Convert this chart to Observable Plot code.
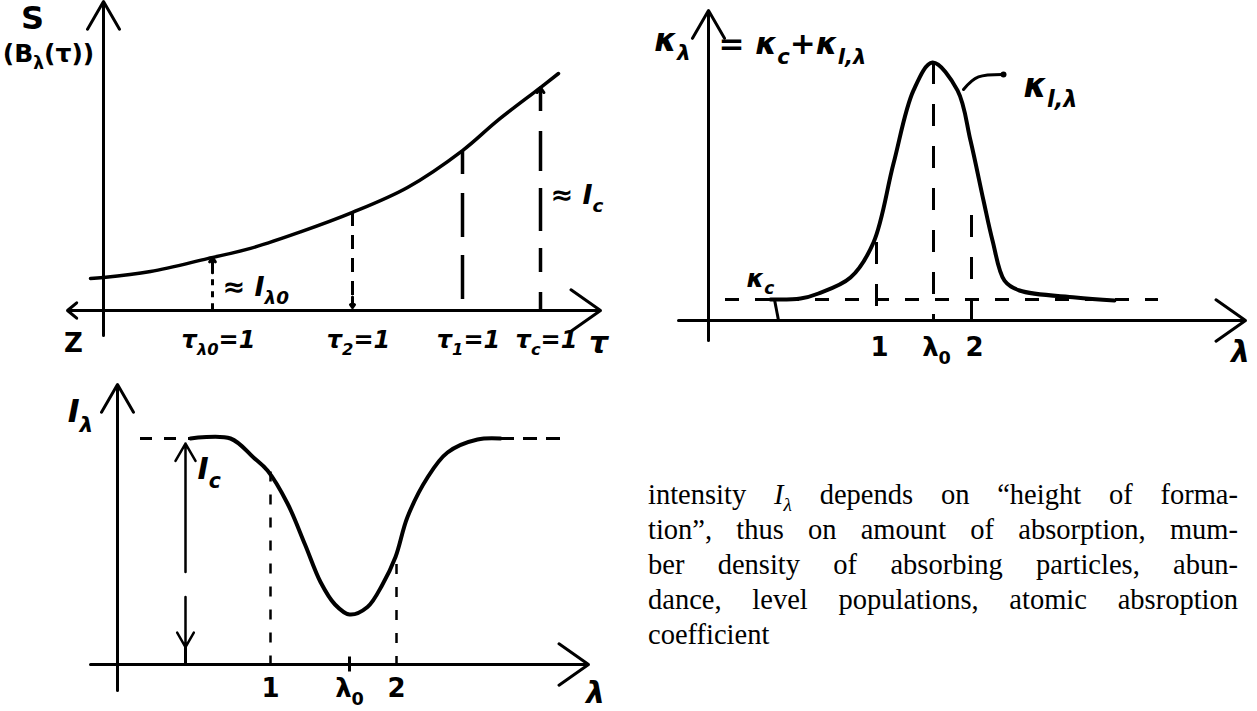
<!DOCTYPE html>
<html>
<head>
<meta charset="utf-8">
<script src="https://cdn.jsdelivr.net/npm/d3@7"></script>
<script src="https://cdn.jsdelivr.net/npm/@observablehq/plot@0.6"></script>
<style>
  html, body { margin: 0; padding: 0; background: #fff; }
  #page { position: relative; width: 1257px; height: 711px; overflow: hidden; background: #fff; }
  .panel { position: absolute; }
  .panel svg { overflow: visible; }
  #note {
    position: absolute; left: 648px; top: 477px; width: 590px;
    font-family: "Liberation Serif", "DejaVu Serif", serif;
    font-size: 28.5px; line-height: 35px; color: #000;
  }
  #note .ln { text-align: justify; text-align-last: justify; white-space: nowrap; }
  #note .last { text-align: left; text-align-last: left; }
  #note sub { font-size: 68%; font-style: italic; line-height: 0; }
</style>
</head>
<body>
<div id="page">
  <div class="panel" id="p-source" style="left:0px; top:0px;"></div>
  <div class="panel" id="p-opacity" style="left:640px; top:0px;"></div>
  <div class="panel" id="p-profile" style="left:0px; top:380px;"></div>
  <div id="note">
    <div class="ln">intensity <i>I</i><sub>λ</sub> depends on “height of forma-</div>
    <div class="ln">tion”, thus on amount of absorption, mum-</div>
    <div class="ln">ber density of absorbing particles, abun-</div>
    <div class="ln">dance, level populations, atomic absroption</div>
    <div class="ln last">coefficient</div>
  </div>
</div>
<script>
// ---- Source function S(τ) rising with optical depth ----
const sourceTau = [-0.26, 0, 0.94, 2.08, 2.94, 3.94, 4.98, 6.08, 7.18, 7.88, 8.74, 9.1];
const sourceS   = [1.07, 1.1, 1.3, 1.73, 2.07, 2.62, 3.27, 4.1, 5.33, 6.33, 7.43, 7.9];
// depths where τ = 1 for the line centre, wing points and continuum
const depthTau    = [2.18, 4.98, 7.18, 8.74];
const depthS      = [1.76, 3.27, 5.33, 7.43];
const depthLabels = ["τ_{λ0}=1", "τ_{2}=1", "τ_{1}=1", "τ_{c}=1"];

// ---- Absorption coefficient κ_λ = κ_c + κ_l,λ ----
const opacityLam   = [1.24, 1.84, 2.2, 2.84, 3.3, 3.7, 4.1, 4.48, 4.98, 5.24, 5.5, 5.68, 5.92, 6.22, 7.34, 8.12];
const opacityKappa = [0.7, 0.73, 0.9, 1.43, 2.6, 5.23, 7.67, 8.6, 7.67, 6.0, 4.0, 2.67, 1.33, 1.0, 0.77, 0.67];
const kappaC = 0.7;
const continuumSpan = [0.34, 9.0];
const opacityMarks  = [3.36, 4.5, 5.26];
const opacityMarkTop = [2.6, 8.6, 3.5];
const opacityTickLabels = ["1", "λ_{0}", "2"];

// ---- Emergent line profile I_λ ----
const profileLam = [1.46, 2.26, 2.72, 3.0, 3.4, 3.75, 4.06, 4.35, 4.64, 5.0, 5.3, 5.56, 5.8, 6.2, 6.6, 7.2, 7.66];
const profileI   = [9.04, 9.04, 8.28, 7.76, 6.44, 4.8, 3.3, 2.4, 2.0, 2.3, 3.2, 4.3, 5.9, 7.48, 8.48, 9.0, 9.04];
const contI = 9.04;
const contSpanLeft  = [0.46, 1.46];
const contSpanRight = [7.66, 9.0];
const profileMarks   = [3.06, 5.58];
const profileMarkTop = [7.7, 4.0];
const profileCentre  = 4.64;
const icArrowLam = 1.36;
const profileTickLabels = ["1", "λ_{0}", "2"];

const ink = "#000";
const hand = {fontFamily: "DejaVu Sans", fontWeight: "bold", fontStyle: "italic", fill: ink};

function zip(xs, ys) { return xs.map((x, i) => ({x, y: ys[i]})); }

// turn "a_{b}c" into tspans with a lowered, smaller subscript
function applySubscripts(svg) {
  const ns = "http://www.w3.org/2000/svg";
  svg.querySelectorAll("text").forEach(t => {
    const s = t.textContent;
    if (!s.includes("_{")) return;
    while (t.firstChild) t.removeChild(t.firstChild);
    const re = /_\{([^}]*)\}/g;
    let last = 0, m, lowered = false;
    const plain = str => {
      const ts = document.createElementNS(ns, "tspan");
      ts.textContent = str;
      if (lowered) ts.setAttribute("dy", "-0.3em");
      lowered = false;
      t.appendChild(ts);
    };
    while ((m = re.exec(s))) {
      if (m.index > last) plain(s.slice(last, m.index));
      const sub = document.createElementNS(ns, "tspan");
      sub.textContent = m[1];
      sub.setAttribute("font-size", "68%");
      sub.setAttribute("dy", "0.44em");
      lowered = true;
      t.appendChild(sub);
      last = re.lastIndex;
    }
    if (last < s.length) plain(s.slice(last));
  });
  return svg;
}

function frame(opts) {
  return Plot.plot({
    width: opts.width, height: opts.height,
    marginLeft: opts.marginLeft, marginRight: opts.marginRight,
    marginTop: opts.marginTop, marginBottom: opts.marginBottom,
    x: {domain: [0, 10], axis: null},
    y: {domain: [0, 10], axis: null},
    style: {background: "transparent", overflow: "visible", fontFamily: "DejaVu Sans"},
    marks: opts.marks
  });
}

// ---------- Panel: S(τ) ----------
{
  const curve = zip(sourceTau, sourceS);
  const d = depthTau.map((t, i) => ({t, s: depthS[i], label: depthLabels[i]}));
  const svg = frame({
    width: 620, height: 370, marginLeft: 103, marginRight: 17, marginTop: 10, marginBottom: 60,
    marks: [
      // axes
      Plot.arrow([0], {x1: 0, y1: -0.83, x2: 0, y2: 10.3, stroke: ink, strokeWidth: 3, headLength: 16, headAngle: 60}),
      Plot.arrow([0], {x1: 0, y1: 0, x2: 9.94, y2: 0, stroke: ink, strokeWidth: 3, headLength: 18, headAngle: 70}),
      Plot.arrow([0], {x1: 0, y1: 0, x2: -0.72, y2: 0, stroke: ink, strokeWidth: 3, headLength: 16, headAngle: 80}),
      // τ = 1 markers
      Plot.ruleX([d[0]], {x: "t", y1: "s", y2: 0, stroke: ink, strokeWidth: 3, strokeDasharray: "16,6,6,6,6,6"}),
      Plot.arrow([d[0]], {x1: "t", x2: "t", y1: d => d.s - 0.5, y2: "s", stroke: ink, strokeWidth: 3, headLength: 12, headAngle: 70}),
      Plot.ruleX([d[1]], {x: "t", y1: "s", y2: 0.15, stroke: ink, strokeWidth: 3, strokeDasharray: "14,9"}),
      Plot.arrow([d[1]], {x1: "t", x2: "t", y1: 0.45, y2: 0.1, stroke: ink, strokeWidth: 3, headLength: 10, headAngle: 70}),
      Plot.ruleX([d[2]], {x: "t", y1: "s", y2: 0, stroke: ink, strokeWidth: 3.5, strokeDasharray: "24,19,44,18,44,18"}),
      Plot.ruleX([d[3]], {x: "t", y1: "s", y2: 0, stroke: ink, strokeWidth: 3.5, strokeDasharray: "24,20,40,17,43,17"}),
      Plot.arrow([d[3]], {x1: "t", x2: "t", y1: d => d.s - 0.6, y2: "s", stroke: ink, strokeWidth: 3, headLength: 12, headAngle: 70}),
      // S(τ)
      Plot.line(curve, {x: "x", y: "y", curve: "catmull-rom", stroke: ink, strokeWidth: 3.5}),
      // labels
      Plot.text(d, {x: "t", y: -1.0, dx: 6, text: "label", fontSize: 24, ...hand}),
      Plot.text(["S"], {x: -1.42, y: 9.73, text: d => d, fontSize: 32, ...hand, fontStyle: "normal"}),
      Plot.text(["(B_{λ}(τ))"], {x: -1.1, y: 8.55, text: d => d, fontSize: 25, ...hand, fontStyle: "normal"}),
      Plot.text(["Z"], {x: -0.6, y: -1.1, text: d => d, fontSize: 26, ...hand, fontStyle: "normal"}),
      Plot.text(["τ"], {x: 9.9, y: -1.1, text: d => d, fontSize: 30, ...hand}),
      Plot.text(["≈ I_{λ0}"], {x: depthTau[0], y: 0.77, dx: 10, text: d => d, textAnchor: "start", fontSize: 27, ...hand}),
      Plot.text(["≈ I_{c}"], {x: depthTau[3], y: 3.83, dx: 10, text: d => d, textAnchor: "start", fontSize: 27, ...hand})
    ]
  });
  document.getElementById("p-source").appendChild(applySubscripts(svg));
}

// ---------- Panel: κ_λ ----------
{
  const curve = zip(opacityLam, opacityKappa);
  const m = opacityMarks.map((x, i) => ({x, top: opacityMarkTop[i], label: opacityTickLabels[i]}));
  const svg = frame({
    width: 617, height: 370, marginLeft: 68, marginRight: 49, marginTop: 20, marginBottom: 50,
    marks: [
      Plot.arrow([0], {x1: 0, y1: -0.67, x2: 0, y2: 10.33, stroke: ink, strokeWidth: 3, headLength: 16, headAngle: 60}),
      Plot.arrow([0], {x1: -0.6, y1: 0, x2: 10.74, y2: 0, stroke: ink, strokeWidth: 3, headLength: 18, headAngle: 70}),
      // continuum level κ_c
      Plot.ruleY([kappaC], {x1: continuumSpan[0], x2: continuumSpan[1], y: d => d, stroke: ink, strokeWidth: 3, strokeDasharray: "14,16"}),
      Plot.link([kappaC], {x1: 1.4, y1: 0, x2: 1.32, y2: d => d, stroke: ink, strokeWidth: 3}),
      // wavelength markers
      Plot.ruleX(m, {x: "x", y1: "top", y2: 0, stroke: ink, strokeWidth: 3, strokeDasharray: "22,20"}),
      // κ_λ profile
      Plot.line(curve, {x: "x", y: "y", curve: "catmull-rom", stroke: ink, strokeWidth: 4}),
      // pointer to the line opacity
      Plot.line([{x: 5.1, y: 7.7}, {x: 5.4, y: 8.12}, {x: 5.9, y: 8.2}], {x: "x", y: "y", curve: "natural", stroke: ink, strokeWidth: 3}),
      Plot.dot([{x: 5.9, y: 8.2}], {x: "x", y: "y", r: 3, fill: ink}),
      // labels
      Plot.text(m, {x: "x", y: -0.9, dx: 3, text: "label", fontSize: 26, ...hand, fontStyle: "normal"}),
      Plot.text(["κ_{λ}"], {x: -0.72, y: 9.33, text: d => d, fontSize: 32, ...hand}),
      Plot.text(["= κ_{c}+κ_{l,λ}"], {x: 0.2, y: 9.2, text: d => d, textAnchor: "start", fontSize: 31, ...hand}),
      Plot.text(["κ_{l,λ}"], {x: 6.3, y: 7.8, text: d => d, textAnchor: "start", fontSize: 33, ...hand}),
      Plot.text(["κ_{c}"], {x: 1.04, y: 1.4, text: d => d, fontSize: 25, ...hand}),
      Plot.text(["λ"], {x: 10.64, y: -1.07, text: d => d, fontSize: 30, ...hand})
    ]
  });
  document.getElementById("p-opacity").appendChild(applySubscripts(svg));
}

// ---------- Panel: I_λ ----------
{
  const curve = zip(profileLam, profileI);
  const m = profileMarks.map((x, i) => ({x, top: profileMarkTop[i]}));
  const ticks = [profileMarks[0], profileCentre, profileMarks[1]].map((x, i) => ({x, label: profileTickLabels[i]}));
  const svg = frame({
    width: 620, height: 331, marginLeft: 117, marginRight: 3, marginTop: 34, marginBottom: 47,
    marks: [
      Plot.arrow([0], {x1: 0, y1: -1.04, x2: 0, y2: 11.2, stroke: ink, strokeWidth: 3, headLength: 16, headAngle: 60}),
      Plot.arrow([0], {x1: -0.54, y1: 0, x2: 9.42, y2: 0, stroke: ink, strokeWidth: 3, headLength: 18, headAngle: 70}),
      // continuum continuation
      Plot.ruleY([contI], {x1: contSpanLeft[0], x2: contSpanLeft[1], y: d => d, stroke: ink, strokeWidth: 3, strokeDasharray: "12,12"}),
      Plot.ruleY([contI], {x1: contSpanRight[0], x2: contSpanRight[1], y: d => d, stroke: ink, strokeWidth: 3, strokeDasharray: "14,9"}),
      // wing markers and line centre tick
      Plot.ruleX(m, {x: "x", y1: "top", y2: 0, stroke: ink, strokeWidth: 2.5, strokeDasharray: "10,13"}),
      Plot.ruleX([profileCentre], {x: d => d, y1: -0.3, y2: 0.3, stroke: ink, strokeWidth: 3}),
      Plot.ruleX([icArrowLam], {x: d => d, y1: 0, y2: 0.7, stroke: ink, strokeWidth: 3}),
      // continuum intensity I_c (double arrow)
      Plot.arrow([contI], {x1: icArrowLam, x2: icArrowLam, y1: 3.7, y2: d => d - 0.2, stroke: ink, strokeWidth: 2.5, headLength: 12, headAngle: 60}),
      Plot.arrow([contI], {x1: icArrowLam, x2: icArrowLam, y1: 2.7, y2: 0.7, stroke: ink, strokeWidth: 2.5, headLength: 12, headAngle: 60}),
      // profile
      Plot.line(curve, {x: "x", y: "y", curve: "catmull-rom", stroke: ink, strokeWidth: 4}),
      // labels
      Plot.text(ticks, {x: "x", y: -0.96, text: "label", fontSize: 26, ...hand, fontStyle: "normal"}),
      Plot.text(["I_{λ}"], {x: -0.74, y: 10.1, text: d => d, fontSize: 32, ...hand}),
      Plot.text(["I_{c}"], {x: icArrowLam, y: 7.8, dx: 12, text: d => d, textAnchor: "start", fontSize: 30, ...hand}),
      Plot.text(["λ"], {x: 9.56, y: -1.16, text: d => d, fontSize: 30, ...hand})
    ]
  });
  document.getElementById("p-profile").appendChild(applySubscripts(svg));
}
</script>
</body>
</html>
